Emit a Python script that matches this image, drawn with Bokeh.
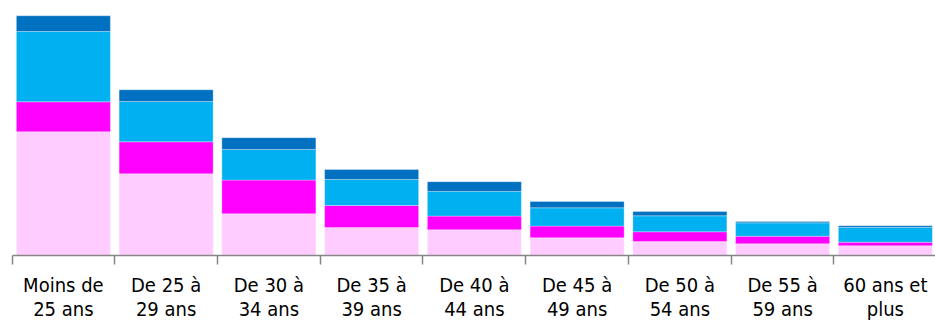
from bokeh.plotting import figure
from bokeh.models import ColumnDataSource, FixedTicker, Range1d
from bokeh.embed import file_html
from bokeh.resources import INLINE

categories = ["Moins de\n25 ans", "De 25 à\n29 ans", "De 30 à\n34 ans", "De 35 à\n39 ans",
              "De 40 à\n44 ans", "De 45 à\n49 ans", "De 50 à\n54 ans", "De 55 à\n59 ans",
              "60 ans et\nplus"]
rose_clair = [123.7, 81.7, 41.7, 28.0, 25.7, 17.7, 14.0, 11.7, 9.7]
magenta = [30.0, 32.0, 33.7, 22.0, 13.7, 11.7, 9.7, 7.6, 3.6]
bleu_clair = [70.3, 40.3, 30.7, 26.0, 24.7, 18.3, 16.0, 13.4, 14.7]
bleu_fonce = [15.7, 11.7, 11.7, 10.0, 9.7, 6.3, 4.3, 1.3, 1.7]

series = ["rose_clair", "magenta", "bleu_clair", "bleu_fonce"]
colors = ["#FFCCFF", "#FF00FF", "#00B0F0", "#0070C0"]

x = list(range(len(categories)))
src = ColumnDataSource(dict(x=x, rose_clair=rose_clair, magenta=magenta,
                            bleu_clair=bleu_clair, bleu_fonce=bleu_fonce))

p = figure(width=935, height=322, output_backend="svg", toolbar_location=None,
           x_range=Range1d(-0.612, 8.488), y_range=Range1d(-67, 255),
           min_border_left=0, min_border_right=0, min_border_top=0, min_border_bottom=0)
p.outline_line_color = None
p.grid.visible = False
p.yaxis.visible = False

p.vbar_stack(series, x="x", width=0.915, source=src, color=colors,
             line_color="white", line_width=0.6, line_alpha=0.5)

ax = p.xaxis[0]
ax.fixed_location = 0
ax.ticker = FixedTicker(ticks=x, minor_ticks=[i - 0.5 for i in range(len(categories) + 1)])
ax.major_label_overrides = {i: c for i, c in enumerate(categories)}
ax.bounds = (-0.5, len(categories) - 0.5)
ax.axis_line_color = "#868686"
ax.axis_line_width = 1.5
ax.major_tick_line_color = None
ax.major_tick_out = 0
ax.major_tick_in = 0
ax.minor_tick_line_color = "#868686"
ax.minor_tick_line_width = 1.5
ax.minor_tick_out = 9
ax.minor_tick_in = 0
ax.major_label_text_font = "DejaVu Sans Condensed"
ax.major_label_text_font_size = "20px"
ax.major_label_text_color = "#000000"
ax.major_label_text_line_height = 1.0
ax.major_label_standoff = 8

open("out.html", "w").write(file_html(p, INLINE))
